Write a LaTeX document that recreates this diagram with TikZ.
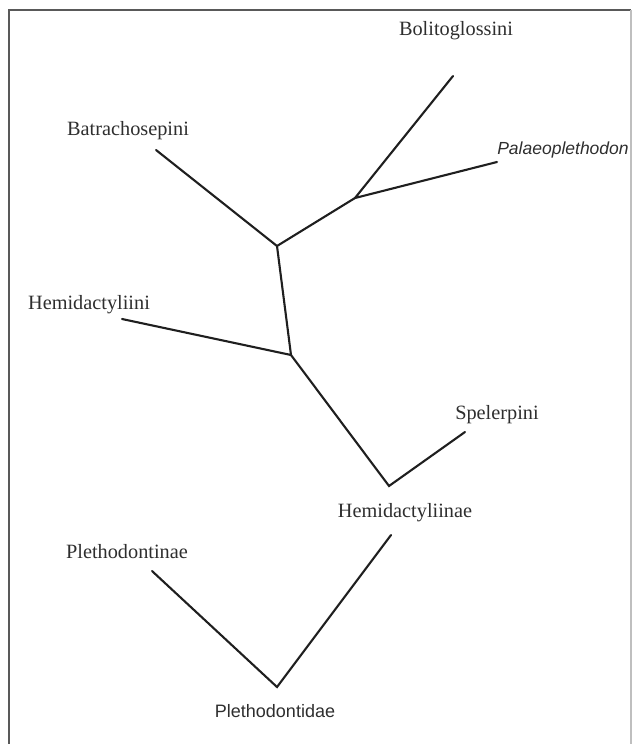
\documentclass[tikz,border=0pt]{standalone}
\usepackage{fontspec}
\setmainfont{Liberation Serif}
\setsansfont{Liberation Sans}
\usetikzlibrary{positioning}

\begin{document}
\begin{tikzpicture}[
  x=1pt,y=-1pt,
  taxon/.style={font=\fontsize{20.3}{22}\selectfont,text=black!82,inner sep=0pt},
  sftaxon/.style={taxon,font=\sffamily\fontsize{18}{20}\selectfont},
  branch/.style={line width=2.1pt,black!88,line cap=round,line join=miter},
  frame/.style={line width=1.8pt,black!65},
]
\useasboundingbox (0,0) rectangle (632,744);
% frame (left and top dark, right light)
\draw[frame] (9,744) -- (9,10) -- (631,10);
\draw[line width=1.2pt,black!25] (631,10) -- (631,744);

% internal nodes
\coordinate (nBol) at (355,198);
\coordinate (nBat) at (277,246);
\coordinate (nHem) at (291,355);
\coordinate (nSpe) at (389,486);
\coordinate (nPle) at (277,687);

% tips
\coordinate (tBol) at (453,76);
\coordinate (tPal) at (497,162);
\coordinate (tBat) at (156,150);
\coordinate (tHmi) at (122,319);
\coordinate (tSpe) at (465,432);
\coordinate (tHmn) at (391,535);
\coordinate (tPln) at (152,571);

% labels
\node[taxon] (bol) at (456,31) {Bolitoglossini};
\node[sftaxon,font=\sffamily\itshape\fontsize{17.5}{19}\selectfont] (pal) at (563,150) {Palaeoplethodon};
\node[taxon] (bat) at (128,131) {Batrachosepini};
\node[taxon] (hmi) at (89,305) {Hemidactyliini};
\node[taxon] (spe) at (497,415) {Spelerpini};
\node[taxon] (hmn) at (405,513) {Hemidactyliinae};
\node[taxon] (pln) at (127,552) {Plethodontinae};
\node[sftaxon] (ple) at (275,711) {Plethodontidae};

% tree
\draw[branch] (tBol) -- (nBol) -- (tPal);
\draw[branch] (nBol) -- (nBat) -- (tBat);
\draw[branch] (nBat) -- (nHem) -- (tHmi);
\draw[branch] (nHem) -- (nSpe) -- (tSpe);
\draw[branch] (tPln) -- (nPle) -- (tHmn);
\end{tikzpicture}
\end{document}
